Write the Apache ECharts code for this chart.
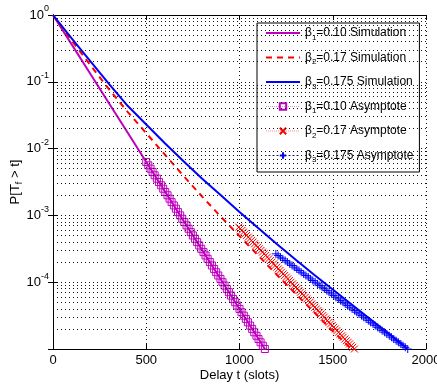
<!DOCTYPE html>
<html><head><meta charset="utf-8">
<script src="https://cdn.jsdelivr.net/npm/echarts@6/dist/echarts.min.js"></script>
<style>html,body{margin:0;padding:0;background:#fff}#c{width:437px;height:386px}</style>
</head><body><div id="c"></div>
<script>
const seriesNames = ['β1=0.10 Simulation','β2=0.17 Simulation','β3=0.175 Simulation','β1=0.10 Asymptote','β2=0.17 Asymptote','β3=0.175 Asymptote'];
const xTicks = [0, 500, 1000, 1500, 2000];

const sim1T = [0,100,200,300,400,500,600,700,800,900,1000,1100,1136];
const sim1P = [1,0.363,0.1318,0.04786,0.01738,0.00631,0.002291,8.318e-4,3.020e-4,1.096e-4,3.981e-5,1.445e-5,1.0e-5];

const sim2T = [0,100,200,300,400,500,600,700,800,900,1000,1100,1200,1300,1400,1500,1600];
const sim2P = [1,0.417,0.178,0.0776,0.0355,0.0170,8.13e-3,3.89e-3,1.91e-3,9.55e-4,4.90e-4,2.51e-4,1.29e-4,6.76e-5,3.55e-5,1.86e-5,1.0e-5];

const sim3T = [0,100,200,300,400,500,600,700,800,900,1000,1100,1200,1300,1400,1500,1600,1700,1800,1900];
const sim3P = [1,0.447,0.204,0.0933,0.0437,0.0229,0.0120,6.46e-3,3.55e-3,2.00e-3,1.12e-3,6.46e-4,3.72e-4,2.19e-4,1.29e-4,7.76e-5,4.68e-5,2.82e-5,1.70e-5,1.02e-5];

const asy1T = [500,511,523,534,545,557,568,580,591,602,614,625,636,648,659,670,682,693,704,716,727,739,750,761,773,784,795,807,818,829,841,852,864,875,886,898,909,920,932,943,954,966,977,988,1000,1011,1023,1034,1045,1057,1068,1079,1091,1102,1113,1125,1136];
const asy1P = [6.31e-3,5.62e-3,5.01e-3,4.47e-3,3.98e-3,3.55e-3,3.16e-3,2.82e-3,2.51e-3,2.24e-3,2.00e-3,1.78e-3,1.58e-3,1.41e-3,1.26e-3,1.12e-3,1.00e-3,
  8.91e-4,7.94e-4,7.08e-4,6.31e-4,5.62e-4,5.01e-4,4.47e-4,3.98e-4,3.55e-4,3.16e-4,2.82e-4,2.51e-4,2.24e-4,2.00e-4,1.78e-4,1.58e-4,1.41e-4,1.26e-4,1.12e-4,1.00e-4,
  8.91e-5,7.94e-5,7.08e-5,6.31e-5,5.62e-5,5.01e-5,4.47e-5,3.98e-5,3.55e-5,3.16e-5,2.82e-5,2.51e-5,2.24e-5,2.00e-5,1.78e-5,1.58e-5,1.41e-5,1.26e-5,1.12e-5,1.00e-5];

const asy2T = [996,1004,1013,1021,1030,1038,1047,1055,1064,1072,1081,1089,1098,1106,1115,1123,1132,1140,1149,1157,1166,1174,1183,1191,1200,1208,1217,1225,1234,1242,1251,1259,1268,1276,1285,1293,1302,1310,1319,1327,1336,1344,1353,1361,1370,1378,1387,1395,1404,1412,1421,1429,1437,1446,1454,1463,1471,1480,1488,1497,1505,1514,1522,1531,1539,1548,1556,1565,1573,1582,1590,1599,1607,1616];
const asy2P = [6.68e-4,6.31e-4,5.96e-4,5.62e-4,5.31e-4,5.01e-4,4.73e-4,4.47e-4,4.22e-4,3.98e-4,3.76e-4,3.55e-4,3.35e-4,3.16e-4,2.99e-4,2.82e-4,2.66e-4,2.51e-4,2.37e-4,2.24e-4,2.11e-4,2.00e-4,1.88e-4,1.78e-4,1.68e-4,1.58e-4,1.50e-4,1.41e-4,1.33e-4,1.26e-4,1.19e-4,1.12e-4,1.06e-4,1.00e-4,
  9.44e-5,8.91e-5,8.41e-5,7.94e-5,7.50e-5,7.08e-5,6.68e-5,6.31e-5,5.96e-5,5.62e-5,5.31e-5,5.01e-5,4.73e-5,4.47e-5,4.22e-5,3.98e-5,3.76e-5,3.55e-5,3.35e-5,3.16e-5,2.99e-5,2.82e-5,2.66e-5,2.51e-5,2.37e-5,2.24e-5,2.11e-5,2.00e-5,1.88e-5,1.78e-5,1.68e-5,1.58e-5,1.50e-5,1.41e-5,1.33e-5,1.26e-5,1.19e-5,1.12e-5,1.06e-5,1.00e-5];

const asy3T = [1195,1207,1220,1232,1245,1257,1269,1282,1294,1307,1319,1331,1344,1356,1369,1381,1393,1406,1418,1431,1443,1455,1468,1480,1493,1505,1517,1530,1542,1555,1567,1579,1592,1604,1617,1629,1641,1654,1666,1679,1691,1703,1716,1728,1741,1753,1765,1778,1790,1803,1815,1827,1840,1852,1865,1877,1889,1902];
const asy3P = [2.66e-4,2.51e-4,2.37e-4,2.24e-4,2.11e-4,2.00e-4,1.88e-4,1.78e-4,1.68e-4,1.58e-4,1.50e-4,1.41e-4,1.33e-4,1.26e-4,1.19e-4,1.12e-4,1.06e-4,1.00e-4,
  9.44e-5,8.91e-5,8.41e-5,7.94e-5,7.50e-5,7.08e-5,6.68e-5,6.31e-5,5.96e-5,5.62e-5,5.31e-5,5.01e-5,4.73e-5,4.47e-5,4.22e-5,3.98e-5,3.76e-5,3.55e-5,3.35e-5,3.16e-5,2.99e-5,2.82e-5,2.66e-5,2.51e-5,2.37e-5,2.24e-5,2.11e-5,2.00e-5,1.88e-5,1.78e-5,1.68e-5,1.58e-5,1.50e-5,1.41e-5,1.33e-5,1.26e-5,1.19e-5,1.12e-5,1.06e-5,1.00e-5];

const minorGrid = [2e-5,3e-5,4e-5,5e-5,6e-5,7e-5,8e-5,9e-5,2e-4,3e-4,4e-4,5e-4,6e-4,7e-4,8e-4,9e-4,2e-3,3e-3,4e-3,5e-3,6e-3,7e-3,8e-3,9e-3,0.02,0.03,0.04,0.05,0.06,0.07,0.08,0.09,0.2,0.3,0.4,0.5,0.6,0.7,0.8,0.9];

const FONT = 'Liberation Sans, Arial, Helvetica, sans-serif';
const C1 = '#bf00bf', C2 = '#ff0000', C3 = '#0000ff';
const zip = (t, p) => t.map((x, i) => [x, p[i]]);
const gridLine = {type: [1, 3], color: '#111', width: 1};

const chart = echarts.init(document.getElementById('c'));
chart.setOption({
  animation: false,
  backgroundColor: '#fff',
  grid: {left: 53, top: 15, right: 11, bottom: 37, show: false, outerBoundsMode: 'none', containLabel: false},
  xAxis: [{
    type: 'value', min: 0, max: 2000, interval: 500,
    name: 'Delay t (slots)', nameLocation: 'middle', nameGap: 20, nameMoveOverlap: false,
    nameTextStyle: {fontFamily: FONT, fontSize: 13, color: '#000'},
    axisLine: {lineStyle: {color: '#000', width: 1}},
    axisTick: {inside: true, length: 5, lineStyle: {color: '#000'}},
    axisLabel: {fontFamily: FONT, fontSize: 13, color: '#000', margin: 5, hideOverlap: false,
      formatter: v => xTicks.indexOf(v) >= 0 ? String(v) : ''},
    splitLine: {show: true, lineStyle: gridLine}
  }, {
    type: 'value', min: 0, max: 2000, interval: 500, position: 'top',
    axisLine: {show: true, lineStyle: {color: '#000', width: 1}},
    axisTick: {inside: true, length: 5, lineStyle: {color: '#000'}},
    axisLabel: {show: false}, splitLine: {show: false}
  }],
  yAxis: [{
    type: 'log', logBase: 10, min: 1e-5, max: 1,
    name: 'P[T{sub|f} > t]', nameLocation: 'middle', nameGap: 29, nameMoveOverlap: false,
    nameTextStyle: {fontFamily: FONT, fontSize: 13, color: '#000',
      rich: {sub: {fontFamily: FONT, fontSize: 9, color: '#000', padding: [9, 0, 0, 0]}}},
    axisLine: {show: true, lineStyle: {color: '#000', width: 1}},
    axisTick: {inside: true, length: 5, lineStyle: {color: '#000'}},
    axisLabel: {
      fontFamily: FONT, fontSize: 13, color: '#000', margin: 4, showMinLabel: false,
      formatter: v => {
        const e = Math.round(Math.log10(v));
        if (e === -5) return '';
        return '{b|10}{s|' + String(e) + '}';
      },
      rich: {
        b: {fontFamily: FONT, fontSize: 13, color: '#000'},
        s: {fontFamily: FONT, fontSize: 9, color: '#000', padding: [0, 0, 12, 0]}
      }
    },
    splitLine: {show: true, lineStyle: gridLine}
  }, {
    type: 'log', logBase: 10, min: 1e-5, max: 1, position: 'right',
    axisLine: {show: true, lineStyle: {color: '#000', width: 1}},
    axisTick: {inside: true, length: 5, lineStyle: {color: '#000'}},
    axisLabel: {show: false}, splitLine: {show: false}
  }],
  legend: {
    data: seriesNames.map((n, i) => i < 3
      ? {name: n, itemStyle: {opacity: 0}}
      : {name: n, lineStyle: {width: 1, opacity: 0.45}}),
    orient: 'vertical', left: 257, top: 23,
    padding: [4, 6, 8, 8],
    itemWidth: 34, itemHeight: 8, itemGap: 10,
    borderColor: '#000', borderWidth: 1, backgroundColor: '#fff',
    formatter: n => n.replace(/^β(\d)/, 'β{sub|$1}'),
    textStyle: {fontFamily: FONT, fontSize: 12, color: '#000',
      rich: {sub: {fontFamily: FONT, fontSize: 8, color: '#000', padding: [9, 0, 0, 0]}}}
  },
  series: [
    {type: 'line', name: 'minor-grid', data: [], silent: true,
      markLine: {silent: true, symbol: 'none', label: {show: false}, animation: false, precision: 12,
        lineStyle: gridLine, emphasis: {disabled: true},
        data: minorGrid.map(v => ({yAxis: v}))}},
    {name: seriesNames[0], type: 'line', data: zip(sim1T, sim1P), symbol: 'none',
      lineStyle: {color: C1, width: 2}, itemStyle: {color: C1}},
    {name: seriesNames[1], type: 'line', data: zip(sim2T, sim2P), symbol: 'none',
      lineStyle: {color: C2, width: 2, type: [6, 5]}, itemStyle: {color: C2}},
    {name: seriesNames[2], type: 'line', data: zip(sim3T, sim3P), symbol: 'none',
      lineStyle: {color: C3, width: 2}, itemStyle: {color: C3}},
    {name: seriesNames[3], type: 'line', data: zip(asy1T, asy1P), showAllSymbol: true,
      symbol: 'path://M0,0L10,0L10,10L0,10Z', symbolSize: 7,
      lineStyle: {color: C1, width: 1, type: 'dotted'},
      itemStyle: {color: 'rgba(0,0,0,0)', borderColor: C1, borderWidth: 1}},
    {name: seriesNames[4], type: 'line', data: zip(asy2T, asy2P), showAllSymbol: true,
      symbol: 'path://M0,0L10,10M0,10L10,0', symbolSize: 7,
      lineStyle: {color: C2, width: 1, type: 'dotted'},
      itemStyle: {color: 'rgba(0,0,0,0)', borderColor: C2, borderWidth: 1}},
    {name: seriesNames[5], type: 'line', data: zip(asy3T, asy3P), showAllSymbol: true,
      symbol: 'path://M5,0L5,10M0,5L10,5', symbolSize: 8,
      lineStyle: {color: C3, width: 1, type: 'dotted'},
      itemStyle: {color: 'rgba(0,0,0,0)', borderColor: C3, borderWidth: 1}}
  ]
});
</script></body></html>
